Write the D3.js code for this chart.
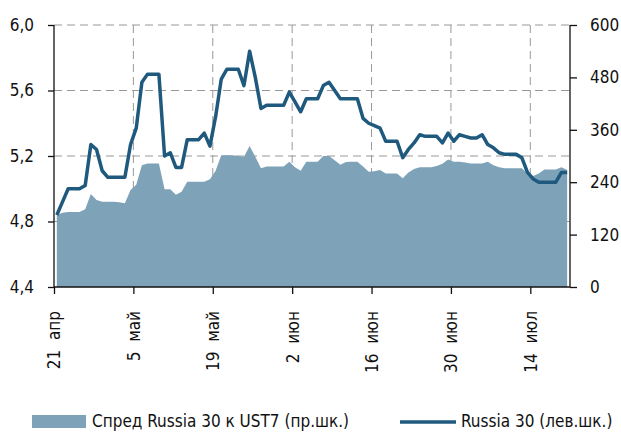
<!DOCTYPE html>
<html>
<head>
<meta charset="utf-8">
<script src="https://cdn.jsdelivr.net/npm/d3@7"></script>
<style>
  body { margin: 0; background: #fff; }
  text { font-family: "DejaVu Sans Condensed", "Liberation Sans Narrow", sans-serif; fill: #111; }
</style>
</head>
<body>
<svg id="chart" width="621" height="434"></svg>
<script>
// daily data from 21 Apr, one value per day
const startDate = new Date(2008, 3, 21);
const endDate = new Date(2008, 6, 21);

// Russia 30 yield, left axis
const russia30 = [
  4.84, 4.92, 5.00, 5.00, 5.00, 5.02, 5.27, 5.24, 5.11, 5.07,
  5.07, 5.07, 5.07, 5.27, 5.37, 5.65, 5.70, 5.70, 5.70, 5.20,
  5.22, 5.13, 5.13, 5.30, 5.30, 5.30, 5.34, 5.26, 5.44, 5.67,
  5.73, 5.73, 5.73, 5.63, 5.84, 5.68, 5.49, 5.51, 5.51, 5.51,
  5.51, 5.59, 5.53, 5.47, 5.55, 5.55, 5.55, 5.63, 5.65, 5.60,
  5.55, 5.55, 5.55, 5.55, 5.43, 5.40, 5.385, 5.37, 5.29, 5.29,
  5.29, 5.19, 5.24, 5.28, 5.33, 5.32, 5.32, 5.32, 5.28, 5.34,
  5.29, 5.33, 5.32, 5.31, 5.31, 5.33, 5.27, 5.25, 5.22, 5.21,
  5.21, 5.21, 5.19, 5.10, 5.06, 5.04, 5.04, 5.04, 5.04, 5.10, 5.10
];

// spread Russia 30 vs UST7, right axis (bp)
const spread = [
  165, 170, 172, 172, 172, 178, 213, 199, 195, 195,
  195, 194, 192, 222, 234, 279, 283, 283, 283, 224,
  224, 211, 218, 241, 241, 241, 241, 247, 266, 302,
  302, 302, 300, 298, 323, 298, 272, 276, 276, 276,
  276, 287, 274, 266, 287, 287, 287, 300, 300, 290,
  280, 286, 287, 287, 276, 264, 265, 268, 260, 260,
  260, 249, 262, 270, 274, 274, 274, 277, 282, 292,
  287, 287, 285, 283, 283, 283, 287, 279, 274, 272,
  272, 272, 272, 260, 254, 260, 269, 269, 269, 274, 268
];

const leftTicks = [4.4, 4.8, 5.2, 5.6, 6.0];
const rightTicks = [0, 120, 240, 360, 480, 600];
const xTickLabels = ["21  апр", "5  май", "19  май", "2  июн", "16  июн", "30  июн", "14  июл"];
const legendLabels = ["Спред Russia 30 к UST7 (пр.шк.)", "Russia 30 (лев.шк.)"];

const lineColor = "#1f5a7e";
const areaColor = "#7ea2b8";

const svg = d3.select("#chart");
const margin = {top: 25, right: 51, bottom: 147, left: 54};
const width = 621 - margin.left - margin.right;
const height = 434 - margin.top - margin.bottom;

const dates = russia30.map((d, i) => d3.timeHour.offset(d3.timeDay.offset(startDate, i), 12));
const xTicks = xTickLabels.map((d, i) => d3.timeDay.offset(startDate, i * 14));

const x = d3.scaleTime().domain([startDate, endDate]).range([0, width]);
const yL = d3.scaleLinear().domain([4.4, 6.0]).range([height, 0]);
const yR = d3.scaleLinear().domain([0, 600]).range([height, 0]);

const g = svg.append("g").attr("transform", `translate(${margin.left},${margin.top})`);

// grid
g.append("g")
  .selectAll("line")
  .data(leftTicks.slice(1))
  .join("line")
    .attr("x1", 0).attr("x2", width)
    .attr("y1", d => yL(d)).attr("y2", d => yL(d))
    .attr("stroke", "#999").attr("stroke-dasharray", "8,5");
g.append("g")
  .selectAll("line")
  .data(xTicks.slice(1))
  .join("line")
    .attr("x1", d => x(d)).attr("x2", d => x(d))
    .attr("y1", 0).attr("y2", height)
    .attr("stroke", "#999").attr("stroke-dasharray", "8,5");

// area for spread
const area = d3.area()
  .x((d, i) => x(dates[i]))
  .y0(height)
  .y1(d => yR(d));
g.append("path")
  .datum(spread)
  .attr("fill", areaColor)
  .attr("d", area);

// line for Russia 30
const line = d3.line()
  .x((d, i) => x(dates[i]))
  .y(d => yL(d));
g.append("path")
  .datum(russia30)
  .attr("fill", "none")
  .attr("stroke", lineColor)
  .attr("stroke-width", 3.5)
  .attr("stroke-linejoin", "round")
  .attr("d", line);

// axes
const axL = g.append("g")
  .call(d3.axisLeft(yL).tickValues(leftTicks).tickSize(6).tickPadding(14)
    .tickFormat(d => d3.format(".1f")(d).replace(".", ",")));
const axR = g.append("g")
  .attr("transform", `translate(${width},0)`)
  .call(d3.axisRight(yR).tickValues(rightTicks).tickSize(7).tickPadding(13));
const axB = g.append("g")
  .attr("transform", `translate(0,${height})`)
  .call(d3.axisBottom(x).tickValues(xTicks).tickSize(7).tickFormat((d, i) => xTickLabels[i]));

[axL, axR, axB].forEach(a => {
  a.select(".domain").attr("stroke", "#111").attr("stroke-width", 1.3);
  a.selectAll(".tick line").attr("stroke", "#111").attr("stroke-width", 1.3);
  a.selectAll("text").attr("font-size", 17).attr("fill", "#111")
    .style("font-family", "'DejaVu Sans Condensed', sans-serif");
});
axL.select(".domain").attr("d", `M-0,${height}V0`);
axR.select(".domain").attr("d", `M0,${height}V0`);
axB.select(".domain").attr("d", `M0,0H${width}`);

axB.selectAll("text")
  .attr("text-anchor", "end")
  .attr("dy", "0.35em")
  .attr("transform", "translate(0,24) rotate(-90)")
  .attr("x", 0).attr("y", 0)
  .attr("font-size", 17)
  .style("white-space", "pre");

// legend
const lg = svg.append("g").attr("transform", "translate(0,421)");
lg.append("rect").attr("x", 32).attr("y", -6).attr("width", 54).attr("height", 13).attr("fill", areaColor);
lg.append("text").attr("x", 92).attr("y", 0).attr("dy", "0.35em").attr("font-size", 17).text(legendLabels[0]);
lg.append("line").attr("x1", 400).attr("x2", 456).attr("y1", 1).attr("y2", 1)
  .attr("stroke", lineColor).attr("stroke-width", 3.5);
lg.append("text").attr("x", 461).attr("y", 0).attr("dy", "0.35em").attr("font-size", 17).text(legendLabels[1]);
</script>
</body>
</html>
